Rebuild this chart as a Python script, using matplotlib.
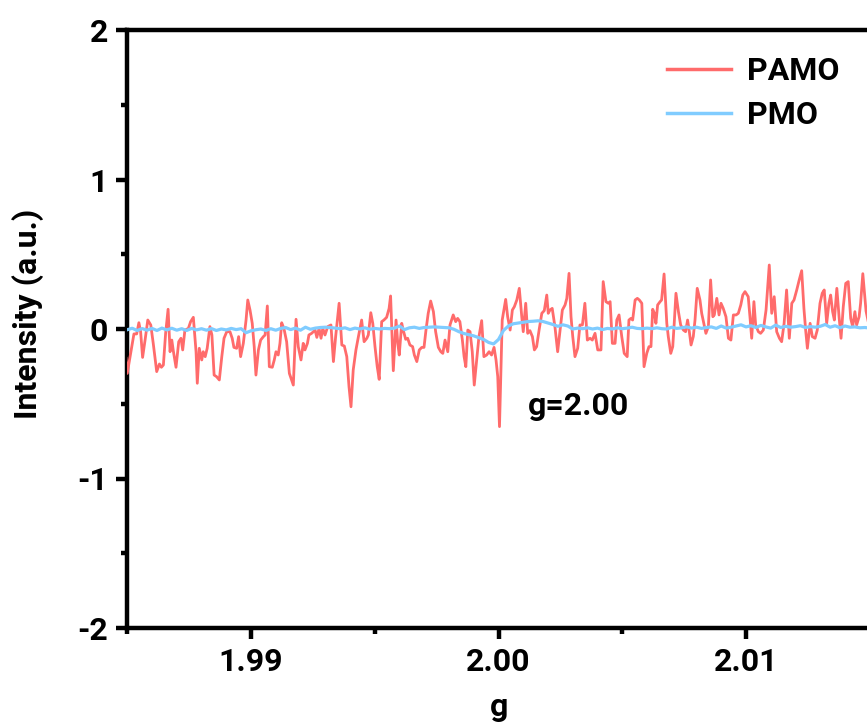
import numpy as np
import matplotlib
matplotlib.use("Agg")
import matplotlib.pyplot as plt
from matplotlib.ticker import MultipleLocator, FormatStrFormatter

plt.rcParams['font.family'] = ['Roboto', 'DejaVu Sans']
plt.rcParams['font.weight'] = 'bold'
plt.rcParams['axes.unicode_minus'] = False

# ---- data ----
pamo_g = [1.98495, 1.98500, 1.98518, 1.98527, 1.98538, 1.98547, 1.98554, 1.98562, 1.98572, 1.98583,
          1.98595, 1.98605, 1.98619, 1.98630, 1.98638, 1.98646, 1.98655, 1.98665, 1.98673, 1.98680,
          1.98686, 1.98697, 1.98708, 1.98717, 1.98724, 1.98733, 1.98747, 1.98756, 1.98767, 1.98778,
          1.98783, 1.98791, 1.98801, 1.98807, 1.98815, 1.98823, 1.98834, 1.98842, 1.98851, 1.98861,
          1.98872, 1.98882, 1.98891, 1.98902, 1.98915, 1.98924, 1.98931, 1.98942, 1.98950, 1.98958,
          1.98969, 1.98980, 1.98987,
          1.98996, 1.99005, 1.99013, 1.99020, 1.99030, 1.99039, 1.99050, 1.99057, 1.99066, 1.99074,
          1.99086, 1.99094, 1.99101, 1.99110, 1.99117, 1.99124, 1.99133, 1.99144, 1.99155, 1.99171,
          1.99182, 1.99191, 1.99202, 1.99211, 1.99218, 1.99228, 1.99234, 1.99245, 1.99259, 1.99266,
          1.99275, 1.99283, 1.99290, 1.99299, 1.99310, 1.99323, 1.99333, 1.99342, 1.99356, 1.99367,
          1.99377, 1.99387, 1.99396, 1.99404, 1.99413, 1.99424, 1.99434, 1.99447, 1.99457, 1.99468,
          1.99474, 1.99484,
          1.99492, 1.99501, 1.99510, 1.99518, 1.99528, 1.99537, 1.99548, 1.99558, 1.99564, 1.99575,
          1.99586, 1.99593, 1.99599, 1.99609, 1.99615, 1.99625, 1.99633, 1.99642, 1.99653, 1.99660,
          1.99670, 1.99680, 1.99690, 1.99699, 1.99707, 1.99716, 1.99726, 1.99737, 1.99746, 1.99757,
          1.99767, 1.99775, 1.99784, 1.99795, 1.99804, 1.99817, 1.99827, 1.99835, 1.99844, 1.99854,
          1.99861, 1.99868, 1.99876, 1.99885, 1.99894, 1.99902, 1.99912, 1.99921, 1.99932, 1.99941,
          1.99952, 1.99962, 1.99972, 1.99982, 1.99990, 1.99997, 2.00004,
          2.00015, 2.00029, 2.00037, 2.00047, 2.00056, 2.00064, 2.00074, 2.00084, 2.00094, 2.00100,
          2.00110, 2.00118, 2.00127, 2.00137, 2.00145, 2.00154, 2.00164, 2.00175, 2.00185, 2.00195,
          2.00201, 2.00208, 2.00217, 2.00228, 2.00239, 2.00249, 2.00258, 2.00269, 2.00276, 2.00285,
          2.00293, 2.00300, 2.00309, 2.00320, 2.00329, 2.00339, 2.00349, 2.00359, 2.00370, 2.00379,
          2.00390, 2.00401, 2.00414, 2.00423, 2.00434, 2.00444, 2.00451, 2.00460, 2.00471, 2.00478,
          2.00487, 2.00498, 2.00508,
          2.00520, 2.00527, 2.00535, 2.00542, 2.00552, 2.00561, 2.00569, 2.00579, 2.00588, 2.00599,
          2.00608, 2.00616, 2.00623, 2.00630, 2.00636, 2.00643, 2.00653, 2.00659, 2.00669, 2.00680,
          2.00686, 2.00696, 2.00704, 2.00710, 2.00717, 2.00727, 2.00736, 2.00747, 2.00756, 2.00764,
          2.00771, 2.00778, 2.00787, 2.00794, 2.00803, 2.00814, 2.00821, 2.00828, 2.00838, 2.00848,
          2.00857, 2.00866, 2.00872, 2.00882, 2.00891, 2.00899, 2.00908, 2.00919, 2.00929, 2.00939,
          2.00949, 2.00960, 2.00969, 2.00979, 2.00987, 2.00996,
          2.01009, 2.01016, 2.01023, 2.01032, 2.01039, 2.01050, 2.01059, 2.01070, 2.01081, 2.01094,
          2.01104, 2.01114, 2.01124, 2.01135, 2.01144, 2.01154, 2.01164, 2.01175, 2.01185, 2.01194,
          2.01205, 2.01215, 2.01225, 2.01234, 2.01241, 2.01248, 2.01259, 2.01268, 2.01279, 2.01288,
          2.01299, 2.01308, 2.01316, 2.01326, 2.01335, 2.01342, 2.01350, 2.01357, 2.01367, 2.01376,
          2.01384, 2.01393, 2.01403, 2.01413, 2.01423, 2.01431, 2.01440, 2.01447, 2.01457, 2.01463,
          2.01472, 2.01485, 2.01500]

pamo_i = [-0.196, -0.297, -0.118, -0.033, -0.033, 0.042, -0.018, -0.190, -0.074, 0.060,
          0.027, -0.096, -0.285, -0.234, -0.256, -0.241, -0.029, 0.132, -0.152, -0.074,
          -0.145, -0.256, -0.085, -0.062, -0.140, -0.007, 0.004, 0.049, 0.078, -0.152,
          -0.363, -0.129, -0.207, -0.152, -0.185, -0.129, 0.016, -0.040, -0.308, -0.319,
          -0.341, -0.185, -0.062, -0.018, -0.018, -0.062, -0.123, -0.129, -0.051, -0.185,
          -0.096, 0.060, 0.194,
          0.127, 0.038, -0.118, -0.308, -0.140, -0.074, -0.051, -0.040, 0.154, -0.252,
          -0.256, -0.207, -0.152, -0.174, -0.096, 0.042, 0.004, -0.085, -0.297, -0.375,
          0.065, -0.118, -0.207, -0.096, -0.140, -0.096, -0.040, -0.029, -0.007, -0.056,
          0.004, -0.062, 0.004, -0.040, 0.016, 0.027, -0.218, -0.051, 0.172, -0.107,
          -0.114, -0.185, -0.386, -0.520, -0.274, -0.140, -0.051, 0.060, -0.085, -0.062,
          -0.040, 0.109,
          0.038, -0.118, -0.252, -0.337, 0.049, 0.060, 0.078, 0.138, 0.221, -0.279,
          0.060, -0.096, -0.174, 0.038, -0.007, -0.069, -0.062, -0.107, -0.118, -0.174,
          -0.218, -0.140, -0.123, -0.123, -0.007, 0.105, 0.187, 0.116, -0.018, -0.123,
          -0.152, -0.163, -0.074, -0.152, 0.027, 0.094, 0.049, 0.071, 0.049, -0.074,
          -0.185, -0.252, -0.007, -0.018, -0.152, -0.375, -0.207, -0.051, 0.056, -0.185,
          -0.174, -0.152, -0.174, -0.123, -0.207, -0.319, -0.653,
          0.060, 0.198, 0.082, -0.007, 0.127, 0.149, 0.194, 0.272, 0.082, -0.018,
          0.172, -0.029, -0.011, -0.051, -0.140, -0.118, -0.007, 0.105, 0.123, 0.227,
          0.105, 0.127, 0.138, 0.016, -0.152, -0.007, 0.127, 0.161, 0.205, 0.372,
          0.082, -0.051, -0.185, -0.129, 0.027, 0.027, 0.172, -0.074, -0.062, -0.074,
          -0.029, -0.140, -0.140, 0.317, 0.183, 0.172, 0.183, -0.096, -0.096, 0.060,
          0.094, -0.051, -0.163,
          -0.185, 0.060, 0.071, 0.060, 0.194, 0.205, 0.194, 0.172, -0.252, -0.163,
          -0.118, -0.118, 0.132, 0.105, 0.038, 0.161, 0.183, 0.194, 0.368, 0.038,
          -0.051, -0.163, -0.118, 0.038, 0.239, 0.116, 0.027, -0.007, -0.018, 0.060,
          -0.018, -0.107, -0.051, 0.060, 0.272, 0.194, 0.105, 0.049, -0.029, 0.016,
          0.328, 0.082, 0.094, 0.205, 0.094, 0.172, 0.138, 0.082, -0.062, -0.074,
          0.094, 0.094, 0.105, 0.161, 0.227, 0.250,
          0.216, 0.082, -0.062, 0.183, 0.027, -0.018, -0.029, -0.007, 0.127, 0.428,
          0.105, 0.216, -0.018, -0.062, -0.085, 0.038, 0.261, -0.062, 0.172, 0.194,
          0.261, 0.328, 0.390, 0.138, -0.007, -0.129, 0.038, -0.051, -0.062, -0.007,
          0.172, 0.239, 0.261, 0.038, 0.172, 0.227, 0.116, 0.060, 0.272, 0.082,
          -0.062, 0.149, 0.305, 0.317, 0.071, 0.016, 0.116, 0.027, 0.082, 0.172,
          0.370, 0.120, 0.000]

pmo_g = np.linspace(1.985, 2.015, 151)
pmo_i = [-0.005, 0.005, -0.010, 0.003, -0.008, 0.004, -0.010, 0.006, -0.006, 0.005,
         -0.008, 0.002, -0.010, 0.004, -0.006, 0.002, -0.008, 0.003, -0.010, 0.000,
         -0.006, 0.004, -0.004, 0.002, -0.025, -0.012, -0.005, 0.000, -0.010, 0.002,
         -0.008, 0.004, 0.010, -0.004, 0.006, -0.008, 0.012, -0.002, 0.006, 0.010,
         0.012, 0.010, 0.006, 0.002, 0.008, -0.004, 0.006, 0.000, 0.008, -0.002,
         0.004, 0.000, 0.004, 0.002, 0.006, 0.020, -0.004, 0.008, 0.012, 0.004,
         0.010, 0.012, 0.014, 0.012, 0.010, 0.008, -0.002, -0.018, -0.030, -0.038,
         -0.046, -0.058, -0.070, -0.090, -0.100, -0.070, -0.010, 0.020, 0.035, 0.040,
         0.045, 0.050, 0.052, 0.055, 0.050, 0.040, 0.030, 0.018, 0.028, 0.020,
         0.000, 0.006, 0.002, 0.008, 0.000, 0.006, -0.004, 0.004, 0.000, 0.008,
         0.002, 0.006, 0.012, 0.004, 0.002, 0.006, 0.002, 0.008, 0.002, 0.000,
         0.012, 0.004, 0.008, 0.014, 0.006, 0.012, 0.004, 0.010, 0.014, 0.004,
         0.020, 0.006, 0.012, 0.020, 0.028, 0.014, 0.022, 0.010, 0.024, 0.014,
         0.006, 0.026, 0.010, 0.018, 0.012, 0.016, 0.022, 0.010, 0.016, 0.012,
         0.018, 0.030, 0.012, 0.022, 0.008, 0.020, 0.012, 0.014, 0.008, 0.010,
         0.006]

x_ticks = [1.99, 2.00, 2.01]
y_ticks = [-2, -1, 0, 1, 2]
series_labels = ['PAMO', 'PMO']
annotation = 'g=2.00'

red = '#FF6B6B'
blue = '#80CCFF'
FS = 23

fig = plt.figure(figsize=(8.67, 7.27), dpi=100)
W, H = 867, 727
ax = fig.add_axes([127.25 / W, (H - 628) / H, (869.75 - 127.25) / W, 598 / H])

ax.plot(pamo_g, pamo_i, color=red, lw=2.0, label=series_labels[0], zorder=3)
ax.plot(pmo_g, pmo_i, color=blue, lw=2.3, label=series_labels[1], zorder=4)

ax.set_xlim(1.985, 2.015)
ax.set_ylim(-2, 2)
ax.set_xticks(x_ticks)
ax.set_yticks(y_ticks)
ax.xaxis.set_minor_locator(MultipleLocator(0.005))
ax.yaxis.set_minor_locator(MultipleLocator(0.5))
ax.xaxis.set_major_formatter(FormatStrFormatter('%.2f'))
ax.yaxis.set_major_formatter(FormatStrFormatter('%d'))

for s in ax.spines.values():
    s.set_linewidth(3.2)
ax.tick_params(which='major', direction='out', length=8, width=3.2, labelsize=FS, pad=6)
ax.tick_params(which='minor', direction='out', length=4.5, width=3.2)
ax.tick_params(top=False, right=False, which='both')
for lab in ax.get_xticklabels() + ax.get_yticklabels():
    lab.set_fontweight('bold')

fig.text(28 / W, (H - 314) / H, 'Intensity (a.u.)', rotation=90, ha='center', va='center',
         fontsize=FS, fontweight='bold')
fig.text(499 / W, (H - 716) / H, 'g', ha='center', va='baseline', fontsize=FS, fontweight='bold')

ax.text(2.00119, -0.575, annotation, ha='left', va='baseline', fontsize=FS, fontweight='bold')

leg = ax.legend(loc='upper left', bbox_to_anchor=((667 - 127.25) / 742.5 - 0.017, 0.978),
                frameon=False, fontsize=FS, handlelength=2.0, handletextpad=0.5,
                labelspacing=0.45, borderaxespad=0.0)
for t in leg.get_texts():
    t.set_fontweight('bold')
for l in leg.get_lines():
    l.set_linewidth(2.5)

fig.savefig('out.png', dpi=100)
